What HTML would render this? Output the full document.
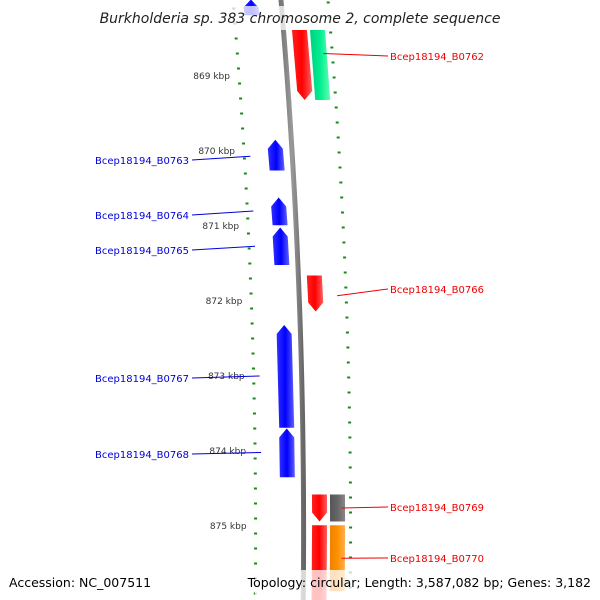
<!DOCTYPE html>
<html><head><meta charset="utf-8"><style>
html,body{margin:0;padding:0;background:#fff}
svg{display:block}
text{font-family:"DejaVu Sans","Liberation Sans",sans-serif}
</style></head><body>
<svg id="map" width="600" height="600" viewBox="0 0 600 600" xmlns="http://www.w3.org/2000/svg">
<defs>
<linearGradient id="gblue" x1="0" x2="1"><stop offset="0" stop-color="#3030ff"/><stop offset="0.5" stop-color="#0000ff"/><stop offset="1" stop-color="#6060ff"/></linearGradient>
<linearGradient id="gred" x1="0" x2="1"><stop offset="0" stop-color="#ff2020"/><stop offset="0.5" stop-color="#f00"/><stop offset="1" stop-color="#ff6060"/></linearGradient>
<linearGradient id="ggreen" x1="0" x2="1"><stop offset="0" stop-color="#00d080"/><stop offset="0.5" stop-color="#00ee90"/><stop offset="1" stop-color="#60ffb0"/></linearGradient>
<linearGradient id="ggrey" x1="0" x2="1"><stop offset="0" stop-color="#555"/><stop offset="0.5" stop-color="#666"/><stop offset="1" stop-color="#888"/></linearGradient>
<linearGradient id="gorange" x1="0" x2="1"><stop offset="0" stop-color="#f08000"/><stop offset="0.5" stop-color="#ff9000"/><stop offset="1" stop-color="#ffb050"/></linearGradient>
<linearGradient id="gback" x1="0" x2="1"><stop offset="0" stop-color="#777"/><stop offset="0.5" stop-color="#999"/><stop offset="1" stop-color="#666"/></linearGradient>
</defs>
<g id="layer"></g>
<rect x="100" y="6" width="400" height="24" fill="#fff" opacity="0.75"/>
<text x="300" y="23" text-anchor="middle" font-size="14" font-style="italic" fill="#222" style="font-family:'DejaVu Sans',sans-serif">Burkholderia sp. 383 chromosome 2, complete sequence</text>
<rect x="255" y="570" width="345" height="30" fill="#fff" opacity="0.75"/>
<text x="9" y="587" font-size="12.5" fill="#000">Accession: NC_007511</text>
<text x="591" y="587" text-anchor="end" font-size="12.5" fill="#000">Topology: circular; Length: 3,587,082 bp; Genes: 3,182</text>
</svg>
<script>
// data (kbp)
const geneNames = ["top_gene","Bcep18194_B0762","Bcep18194_B0762b","Bcep18194_B0763","Bcep18194_B0764","Bcep18194_B0765","Bcep18194_B0766","Bcep18194_B0767","Bcep18194_B0768","Bcep18194_B0769","Bcep18194_B0769b","Bcep18194_B0770","Bcep18194_B0770b"];
const geneStart = [867.98,868.387,868.387,869.85,870.62,871.02,871.66,872.32,873.70,874.58,874.58,874.99,874.99];
const geneEnd   = [868.19,869.32,869.32,870.26,870.99,871.52,872.14,873.69,874.35,874.94,874.94,876.2,875.87];
const geneStrand= [1,-1,0,1,1,1,-1,1,1,-1,0,-1,0];
const geneLane  = [-2,1,2,-1,-1,-1,1,-1,-1,1,2,1,2];
const geneFill  = ["gblue","gred","ggreen","gblue","gblue","gblue","gred","gblue","gblue","gred","ggrey","gred","gorange"];
const labelText = ["Bcep18194_B0762","Bcep18194_B0763","Bcep18194_B0764","Bcep18194_B0765","Bcep18194_B0766","Bcep18194_B0767","Bcep18194_B0768","Bcep18194_B0769","Bcep18194_B0770"];
const labelPos  = [868.7,870.07,870.8,871.27,871.93,873.0,874.02,874.76,875.43];
const labelSide = [1,-1,-1,-1,1,-1,-1,1,1];
const labelY    = [56,160,215,250,289,378,454,507,558];
const majorTicks = [869,870,871,872,873,874,875];
const tickLabels = ["869 kbp","870 kbp","871 kbp","872 kbp","873 kbp","874 kbp","875 kbp"];

const NS="http://www.w3.org/2000/svg";
const layer=document.getElementById('layer');
function yOf(k){return 76+(k-869)*75;}
function cx(y){return 281+0.085*y-0.00008*y*y;}
function mk(tag,attrs){const e=document.createElementNS(NS,tag);for(const a in attrs)e.setAttribute(a,attrs[a]);layer.appendChild(e);return e;}

// backbone
let d="";for(let y=-5;y<=605;y+=5){d+=(y===-5?"M":"L")+cx(y).toFixed(2)+","+y;}
const bb=mk('path',{d:d,stroke:"url(#gback)","stroke-width":5,fill:"none"});



// ticks
for(let k=867.9;k<=876.2;k+=0.2){
  const kk=Math.round(k*10)/10;const y=yOf(kk);
  const major=Math.abs(kk-Math.round(kk))<0.01;
  const xi=cx(y)-48;
  const t=mk('line',{x1:xi-(major?4:1.5),x2:xi+(major?4:1.5),y1:y,y2:y,stroke:"#1a8a1a","stroke-width":2});
  
  
  const yo=y-6;const xo=cx(yo)+47;
  const t2=mk('line',{x1:xo-(major?4:1.5),x2:xo+(major?4:1.5),y1:yo,y2:yo,stroke:"#1a8a1a","stroke-width":2});
  
  
}
majorTicks.forEach((k,i)=>{
  const y=yOf(k);const tx=mk('text',{x:cx(y)-57,y:y+3,"text-anchor":"end","font-size":9,fill:"#333"});
  tx.textContent=tickLabels[i];
  
  
});

// genes
geneNames.forEach((n,i)=>{
  const y1=yOf(geneStart[i]),y2=yOf(geneEnd[i]);const w=15;
  const off=geneLane[i]===1?16:geneLane[i]===2?34:geneLane[i]===-1?-16:-30;
  const xa=cx(y1)+off-w/2,xb=cx(y2)+off-w/2;const a=Math.min(9,(y2-y1)/2);
  let p;
  if(geneStrand[i]===1)p=`M${xa},${y1+a} L${xa+w/2},${y1} L${xa+w},${y1+a} L${xb+w},${y2} L${xb},${y2} Z`;
  else if(geneStrand[i]===-1)p=`M${xa},${y1} L${xa+w},${y1} L${xb+w},${y2-a} L${xb+w/2},${y2} L${xb},${y2-a} Z`;
  else p=`M${xa},${y1} L${xa+w},${y1} L${xb+w},${y2} L${xb},${y2} Z`;
  const g=mk('path',{d:p,fill:`url(#${geneFill[i]})`});
  
  
});

// labels
labelText.forEach((t,i)=>{
  const y=yOf(labelPos[i]);const col=labelSide[i]>0?"#e00":"#00d";
  const ly=labelY[i];
  if(labelSide[i]>0){
    const l=mk('line',{x1:cx(y)+38,y1:y,x2:388,y2:ly,stroke:col,"stroke-width":1});
    
    
    const tx=mk('text',{x:390,y:ly+4,"font-size":10,fill:col});tx.textContent=t;
    
    
  }else{
    const l=mk('line',{x1:cx(y)-42,y1:y,x2:192,y2:ly,stroke:col,"stroke-width":1});
    
    
    const tx=mk('text',{x:189,y:ly+4,"font-size":10,"text-anchor":"end",fill:col});tx.textContent=t;
    
    
  }
});
</script>
</body></html>
